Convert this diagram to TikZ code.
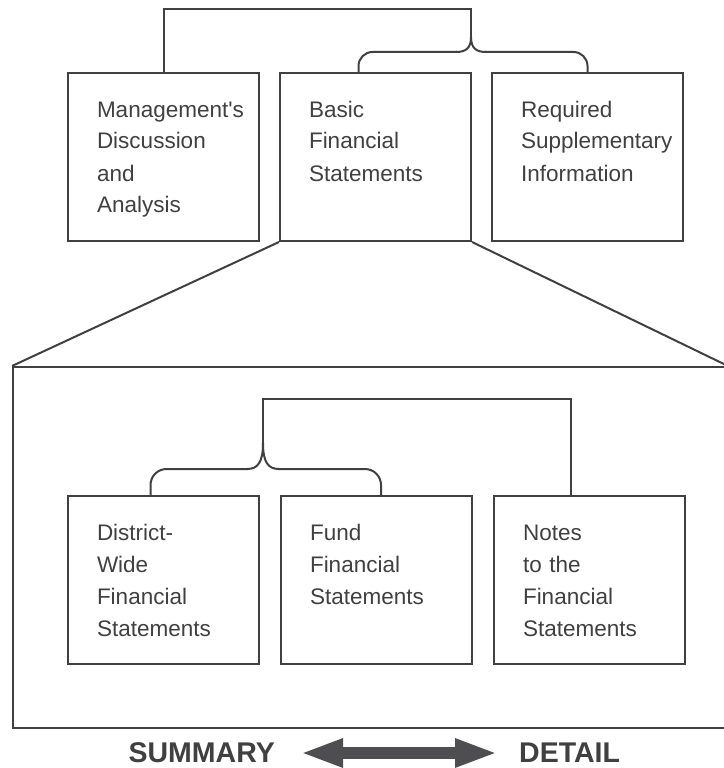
\documentclass[tikz,border=0pt]{standalone}
\usepackage{fontspec}
\setmainfont{Liberation Sans}[Ligatures=TeXOff]
\usetikzlibrary{positioning,calc,arrows.meta}
\definecolor{inkgray}{RGB}{64,64,64}
\definecolor{arrowgray}{RGB}{78,78,80}
\tikzset{
  part/.style={draw=inkgray, line width=2pt, anchor=north west, text=inkgray,
    font={\fontsize{22.5}{32}\selectfont\hyphenpenalty=10000}, align=left,
    text width=133pt, inner xsep=29pt, inner ysep=28pt,
    text height=16pt, text depth=96pt},
  wire/.style={draw=inkgray, line width=2pt},
  tag/.style={text=inkgray, font=\fontsize{28.5}{34}\selectfont\bfseries, inner sep=0pt},
  duplex/.style={draw=arrowgray, line width=12pt,
    {Triangle[length=43pt,width=26pt]}-{Triangle[length=43pt,width=26pt]}},
}
\begin{document}
\begin{tikzpicture}[x=1pt,y=-1pt]
\useasboundingbox (0,0) rectangle (723,768);
% top row
\node[part] (mda) at (67,72) {Management's\\Discussion\\and\\Analysis};
\node[part, right=19pt of mda] (bfs) {Basic\\Financial\\Statements};
\node[part, right=19pt of bfs] (rsi) {Required\\Supplementary\\Information};
\coordinate (topcusp) at (471,37);
\draw[wire] (mda.north) |- (471,9) -- (topcusp);
\draw[wire] (topcusp) .. controls (471,48) and (466,52) .. (456,52);
\draw[wire] (topcusp) .. controls (471,48) and (476,52) .. (486,52);
\draw[wire, rounded corners=14pt] ($(bfs.north)+(-17,0)$) |- (457,52);
\draw[wire, rounded corners=14pt] (rsi.north) |- (485,52);
% zoomed box
\node[draw=inkgray, line width=2pt, anchor=north west, minimum width=714pt,
  minimum height=361pt, inner sep=0pt] (bfsbox) at (12,366) {};
\draw[wire] (bfs.south west) -- (bfsbox.north west);
\draw[wire] (bfs.south east) -- (bfsbox.north east);
% bottom row
\node[part] (dwfs) at (67,495) {District-\\Wide\\Financial\\Statements};
\node[part, right=20pt of dwfs] (ffs) {Fund\\Financial\\Statements};
\node[part, right=20pt of ffs] (notes) {Notes\\to the\\Financial\\Statements};
\coordinate (incusp) at (263,443);
\draw[wire] ($(notes.north)+(-19,0)$) |- (263,399) -- (incusp);
\draw[wire] (incusp) .. controls (263,462) and (258,469) .. (247,469);
\draw[wire] (incusp) .. controls (263,462) and (268,469) .. (279,469);
\draw[wire, rounded corners=16pt] ($(dwfs.north)+(-13,0)$) |- (248,469);
\draw[wire, rounded corners=16pt] ($(ffs.north)+(4.5,0)$) |- (278,469);
% scale
\node[tag, anchor=east] (summary) at (275,753) {SUMMARY};
\node[tag, anchor=west] (detail) at (519,753) {DETAIL};
\draw[duplex, shorten <=25pt, shorten >=21pt] (summary) -- (detail);
\end{tikzpicture}
\end{document}
